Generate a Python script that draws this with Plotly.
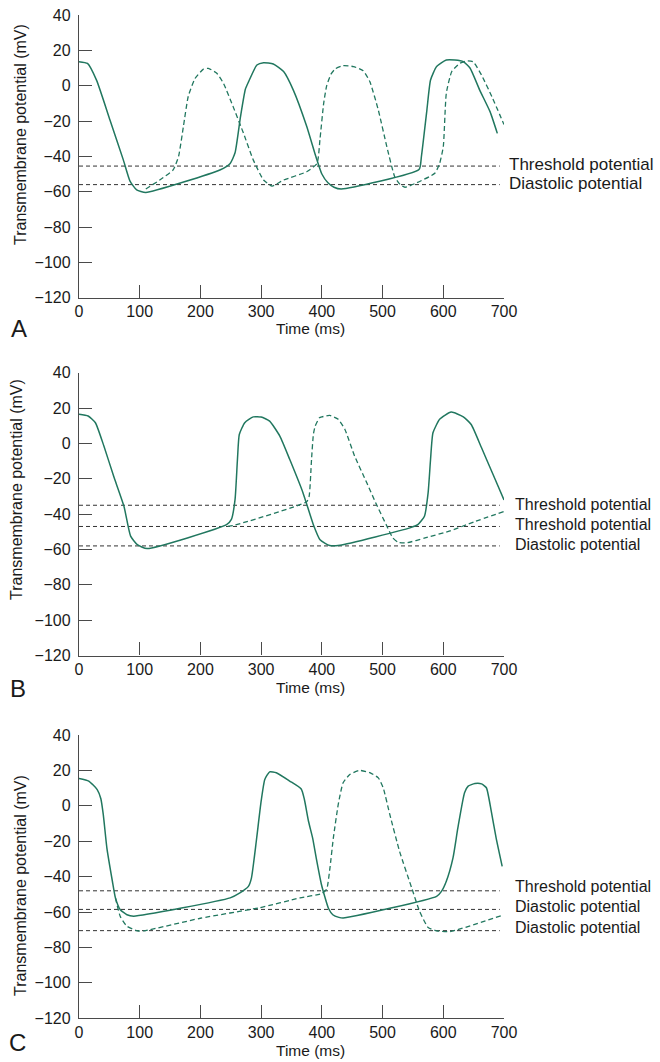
import plotly.graph_objects as go

W, H = 660, 1062
FONT = "Liberation Sans, Arial, Helvetica, sans-serif"
TEXT = "#1a1a1a"
AXIS = "#4a4a4a"
GREEN = "#21775f"
REF = "#333333"

# ---------------- data ----------------
# Panel A
a_solid_t = [0, 14, 29, 51, 73, 84, 95, 110, 232, 249, 257, 266, 274, 279, 293, 304, 320, 337, 353, 375,
             390, 400, 410, 420, 432, 560, 564, 573, 579, 589, 605, 619, 633, 644, 660, 677, 689]
a_solid_v = [13.6, 12.6, 3, -19.4, -42, -54, -59, -60.4, -47.7, -44, -38, -17.5, -2, 2, 11.7, 13, 12.3, 8, -2.5, -23,
             -40, -50, -55, -57.5, -58.5, -47.5, -40, -13.8, 3.2, 10.8, 14.5, 14.5, 13.6, 10, -2.5, -14.7, -27]
a_dash_t = [110, 133, 155, 164, 172, 180, 191, 205, 213, 227, 238, 254, 271, 287, 304, 318, 337, 375, 392,
            397, 403, 408, 415, 422, 435, 452, 468, 479, 493, 507, 520, 529, 537, 556, 586, 594, 600, 605,
            614, 627, 638, 649, 663, 680, 700]
a_dash_v = [-58.5, -53.4, -47.7, -40, -23, -6, 4, 9.4, 9.8, 7, 1.3, -12, -27, -42, -53.4, -56.8, -53.4, -48.7, -44,
            -30, -10, 0, 6.5, 9.5, 11.3, 10.8, 8.5, 2.3, -13.8, -34.5, -51.5, -56, -57.5, -55, -49.6, -44, -34.5, -4.3,
            8, 12.6, 14, 13.6, 6, -6.2, -22]
a_levels = [-45.5, -56]
a_labels = ["Threshold potential", "Diastolic potential"]

# Panel B
b_solid_t = [0, 15, 27, 41, 57, 74, 85, 96, 112, 243, 251, 257, 261, 264, 273, 287, 300, 314, 331, 347, 369,
             386, 397, 413, 430, 545, 558, 569, 575, 579, 583, 594, 613, 633, 646, 663, 682, 700]
b_solid_v = [16.5, 15.5, 11.7, -1.5, -18.5, -35.5, -52.5, -57.3, -59.5, -46, -43, -31.8, -9, 5, 11.7, 15, 14.9, 12.6, 4, -9, -28,
             -46, -54.5, -57.8, -57.6, -47.8, -46, -41.2, -28, -9.1, 6, 13.6, 17.7, 15, 10.7, -2.5, -17.6, -32]
b_dash_t = [245, 254, 375, 379, 383, 386, 389, 396, 400, 413, 427, 438, 454, 474, 490, 506, 517, 526, 539,
            570, 611, 650, 700]
b_dash_v = [-47, -46.5, -33, -30, -9, 5, 9.8, 14.5, 15, 15.8, 13.6, 7.9, -7.2, -22.3, -34.6, -46, -53.5, -56, -56.3,
            -53.5, -49.5, -44.5, -38.5]
b_levels = [-35, -47, -58]
b_labels = ["Threshold potential", "Threshold potential", "Diastolic potential"]

# Panel C
c_solid_t = [0, 16, 30, 36, 40, 46, 55, 60, 68, 79, 90, 249, 265, 279, 284, 292, 300, 306, 314, 325, 347, 366,
             371, 378, 385, 391, 399, 405, 411, 418, 428, 435, 589, 597, 605, 616, 624, 635, 641, 652, 663, 671,
             679, 687, 697]
c_solid_v = [15.5, 14, 9.2, 4, -5, -24, -42.6, -52, -58.7, -61.5, -62.3, -52, -49.2, -45.5, -40.8, -20, 2.6, 14.9, 19.2, 18.7, 14, 9.5,
             4, -8.7, -18.5, -30, -44, -51.5, -58, -61.5, -63, -63.4, -51.1, -48.3, -42.6, -29.4, -12.5, 7.4, 11.1, 12.6, 12.4, 10.2,
             -3, -18.1, -34.2]
c_dash_t = [60, 68, 79, 96, 107, 200, 298, 364, 400, 408, 413, 419, 427, 435, 446, 462, 479, 493, 501, 512, 528,
            548, 561, 575, 589, 611, 696]
c_dash_v = [-52, -62.5, -68, -70.6, -70.6, -63.5, -57.5, -52, -49.5, -47, -36, -18, 0.8, 13, 17.7, 20, 18.7, 15.8, 10.2, -5, -25.7,
            -46.4, -59.6, -68.7, -70.6, -71, -62]
c_levels = [-48, -58.5, -70.5]
c_labels = ["Threshold potential", "Diastolic potential", "Diastolic potential"]

level_x = [0, 693]
y_ticks = [40, 20, 0, -20, -40, -60, -80, -100, -120]
y_ticktext = ["40", "20", "0", "\u221220", "\u221240", "\u221260", "\u221280", "\u2212100", "\u2212120"]
x_ticks = [0, 100, 200, 300, 400, 500, 600, 700]
x_ticktext = [str(v) for v in x_ticks]
panel_letters = ["A", "B", "C"]
y_title = "Transmembrane potential (mV)"
x_title = "Time (ms)"

# ---------------- layout geometry (pixels) ----------------
def px(x):
    return x / W

def py(y):
    return 1 - y / H

x_dom = [px(79), px(504)]
panels = [
    dict(top=15, bottom=297.7, solid=(a_solid_t, a_solid_v), dash=(a_dash_t, a_dash_v),
         levels=a_levels, labels=a_labels, label_y=[165, 183.5], label_x=507, label_size=17,
         ytitle_y=135, ytitle_x=20, xtitle_y=328, letter_y=328, letter_x=19),
    dict(top=372.7, bottom=655.5, solid=(b_solid_t, b_solid_v), dash=(b_dash_t, b_dash_v),
         levels=b_levels, labels=b_labels, label_y=[504, 524, 544.5], label_x=513, label_size=16,
         ytitle_y=490, ytitle_x=17, xtitle_y=687, letter_y=688, letter_x=18),
    dict(top=735, bottom=1018.3, solid=(c_solid_t, c_solid_v), dash=(c_dash_t, c_dash_v),
         levels=c_levels, labels=c_labels, label_y=[886, 906.5, 927], label_x=513, label_size=16,
         ytitle_y=886, ytitle_x=20, xtitle_y=1050, letter_y=1042, letter_x=17),
]

fig = go.Figure()
annotations = []
layout_axes = {}

for i, p in enumerate(panels):
    n = "" if i == 0 else str(i + 1)
    xa, ya = "x" + n, "y" + n
    for lv in p["levels"]:
        fig.add_trace(go.Scatter(x=level_x, y=[lv, lv], xaxis=xa, yaxis=ya, mode="lines",
                                 line=dict(color=REF, width=1, dash="4px,3px"),
                                 showlegend=False, hoverinfo="skip"))
    fig.add_trace(go.Scatter(x=p["dash"][0], y=p["dash"][1], xaxis=xa, yaxis=ya, mode="lines",
                             line=dict(color=GREEN, width=1.3, dash="5px,3px", shape="spline", smoothing=0.5),
                             showlegend=False))
    fig.add_trace(go.Scatter(x=p["solid"][0], y=p["solid"][1], xaxis=xa, yaxis=ya, mode="lines",
                             line=dict(color=GREEN, width=1.5, shape="spline", smoothing=0.5),
                             showlegend=False))

    layout_axes["xaxis" + n] = dict(
        domain=x_dom, range=[0, 700], anchor=ya, showline=True, linecolor=AXIS, linewidth=1.3,
        ticks="inside", ticklen=13, tickwidth=1.3, tickcolor=AXIS, tickvals=x_ticks, ticktext=x_ticktext,
        showgrid=False, zeroline=False, automargin=False,
        tickfont=dict(family=FONT, size=16, color=TEXT), ticklabelstandoff=-1)
    layout_axes["yaxis" + n] = dict(
        domain=[py(p["bottom"]), py(p["top"])], range=[-120, 40], anchor=xa, showline=True,
        linecolor=AXIS, linewidth=1.3, ticks="inside", ticklen=13, tickwidth=1.3, tickcolor=AXIS,
        tickvals=y_ticks, ticktext=y_ticktext, showgrid=False, zeroline=False, automargin=False,
        tickfont=dict(family=FONT, size=16, color=TEXT), ticklabelstandoff=4)

    for lab, ly in zip(p["labels"], p["label_y"]):
        annotations.append(dict(x=px(p["label_x"]), y=py(ly), xref="paper", yref="paper", text=lab,
                                showarrow=False, xanchor="left", yanchor="middle",
                                font=dict(family=FONT, size=p["label_size"], color=TEXT)))
    annotations.append(dict(x=px(p["ytitle_x"]), y=py(p["ytitle_y"]), xref="paper", yref="paper",
                            text=y_title, textangle=-90, showarrow=False, xanchor="center", yanchor="middle",
                            font=dict(family=FONT, size=16, color=TEXT)))
    annotations.append(dict(x=px(310), y=py(p["xtitle_y"]), xref="paper", yref="paper",
                            text=x_title, showarrow=False, xanchor="center", yanchor="middle",
                            font=dict(family=FONT, size=15.5, color=TEXT)))
    annotations.append(dict(x=px(p["letter_x"]), y=py(p["letter_y"]), xref="paper", yref="paper",
                            text=panel_letters[i], showarrow=False, xanchor="center", yanchor="middle",
                            font=dict(family=FONT, size=24, color=TEXT)))

fig.update_layout(width=W, height=H, margin=dict(l=0, r=0, t=0, b=0, autoexpand=False),
                  paper_bgcolor="white", plot_bgcolor="white", showlegend=False,
                  annotations=annotations, **layout_axes)

fig.write_html("out.html", config={"displayModeBar": False},
               post_script="document.body.style.margin='0px';document.body.style.padding='0px';")
